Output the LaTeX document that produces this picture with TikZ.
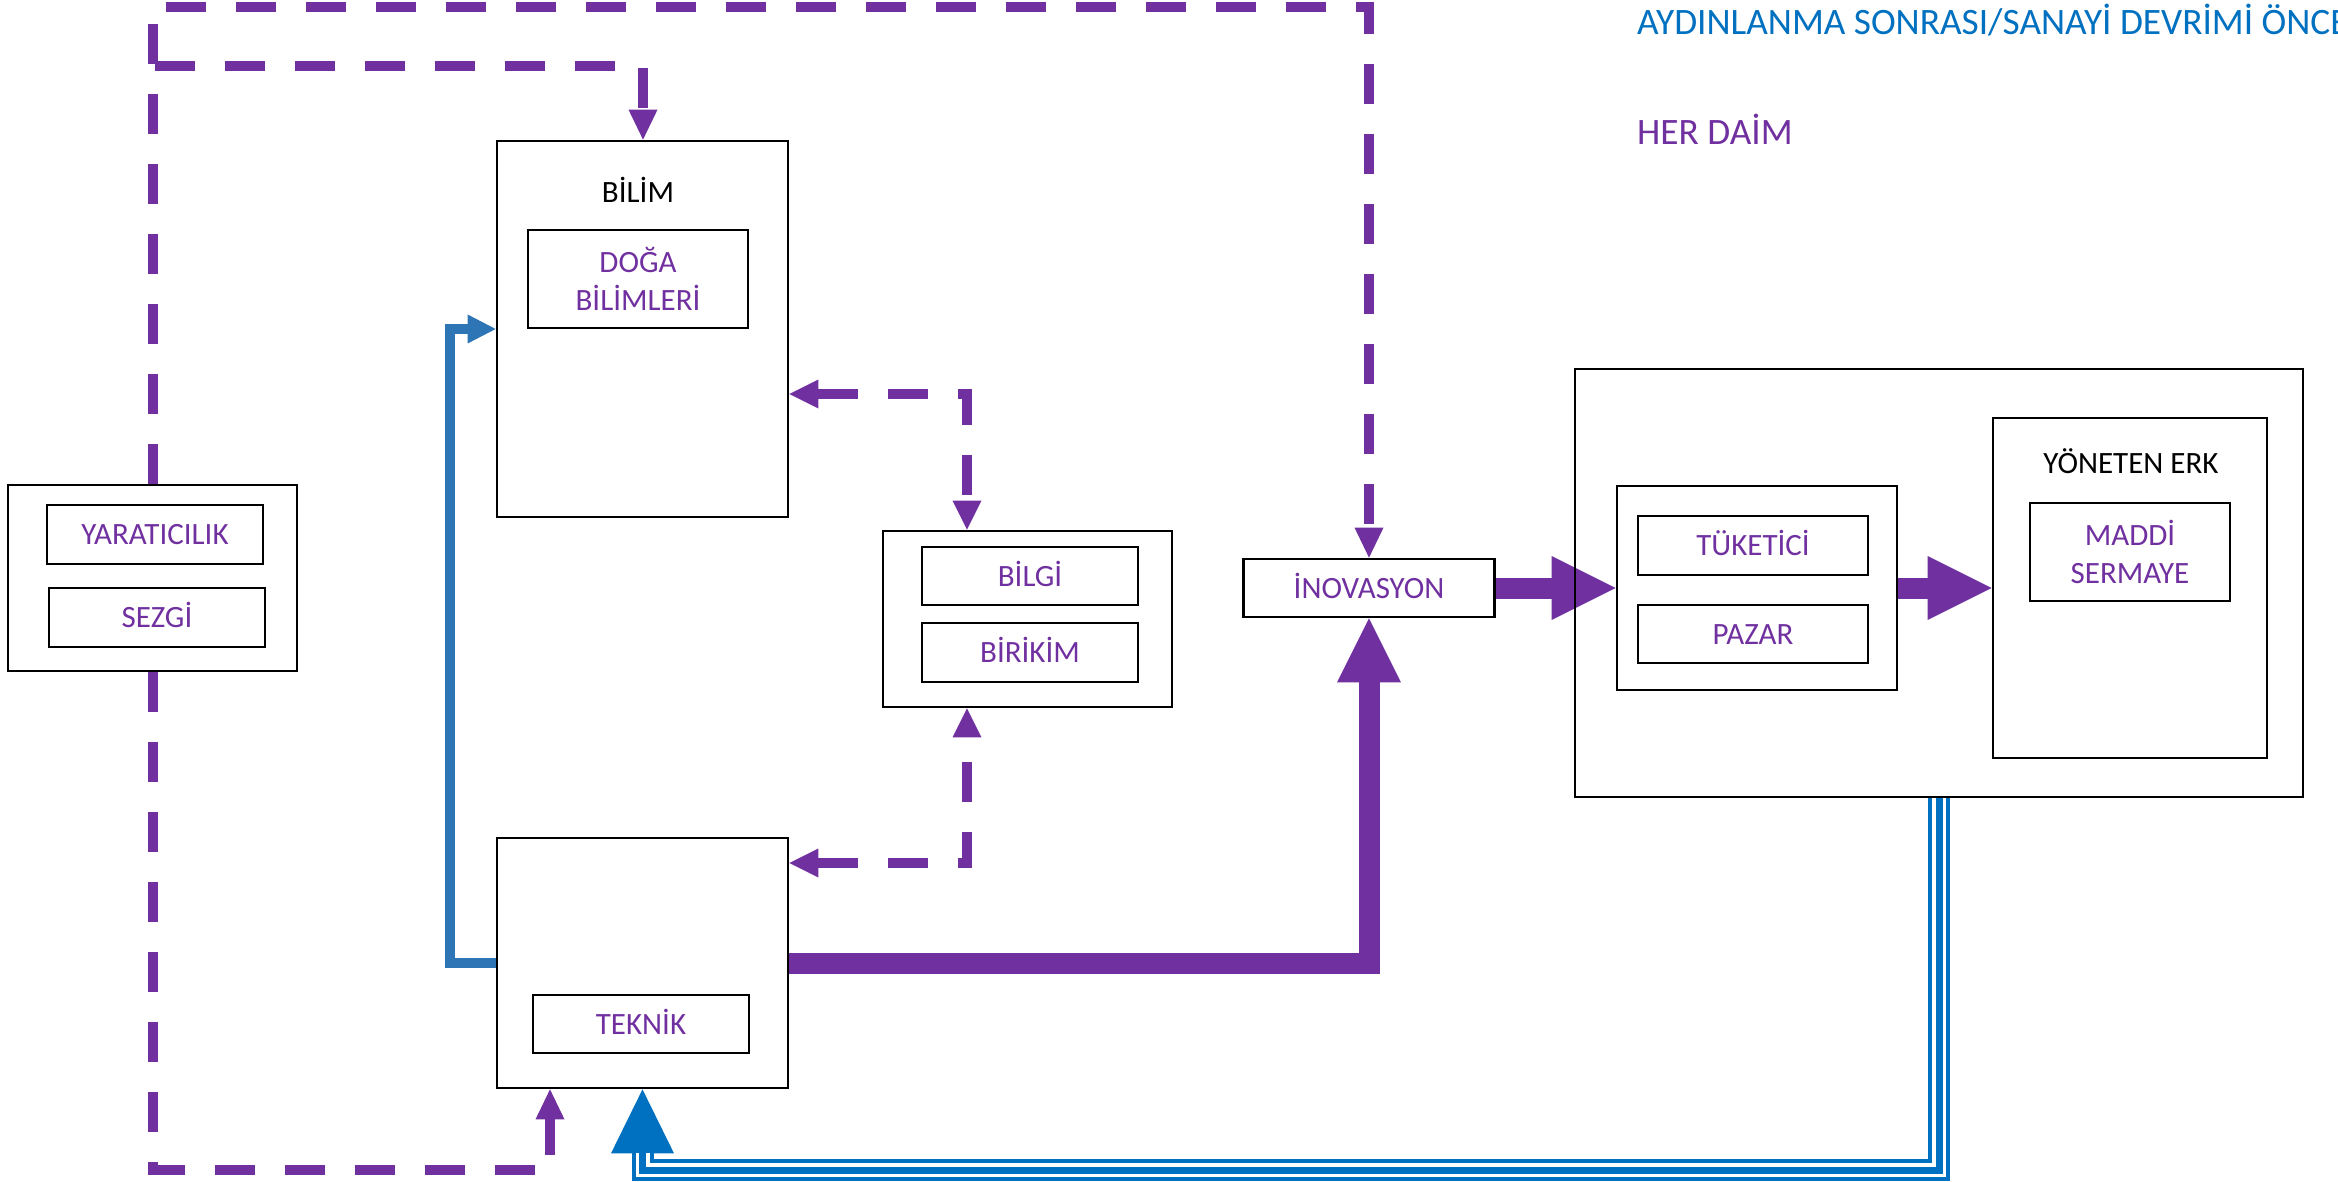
\documentclass[tikz,border=0pt]{standalone}
\usepackage{fontspec}
\setmainfont{Carlito}
\usetikzlibrary{arrows.meta,calc}
\definecolor{purp}{HTML}{7030A0}
\definecolor{blueA}{HTML}{2E75B6}
\definecolor{blueB}{HTML}{0070C0}
\pgfdeclarelayer{bg}
\pgfsetlayers{bg,main}
\begin{document}
\begin{tikzpicture}[x=1pt,y=-1pt,
  box/.style={draw=black,line width=2.7pt,inner sep=0pt,align=center},
  lbl/.style={box,text=purp,font=\fontsize{31}{38}\selectfont},
  lblone/.style={lbl,text height=20pt,text depth=0pt},
  ttl/.style={font=\fontsize{31}{38}\selectfont,anchor=base,inner sep=0pt},
  legend/.style={font=\fontsize{37.3}{44}\selectfont,anchor=base west,inner sep=0pt},
  dsh/.style={draw=purp,line width=10pt,dash pattern=on 40pt off 30pt,line join=miter},
  stip/.style={-{Triangle[width=29pt,length=30pt,line width=0pt]}},
  dtip/.style={{Triangle[width=29pt,length=29pt,line width=0pt]}-{Triangle[width=29pt,length=29pt,line width=0pt]}},
  thk/.style={draw=purp,line width=21pt,line join=miter,-{Triangle[width=64pt,length=64pt,line width=0pt]}},
  bluethin/.style={draw=blueA,line width=10pt,line join=miter,-{Triangle[width=29pt,length=28pt,line width=0pt]}},
  triple/.style={draw=blueB,line width=22pt,line join=miter,-{Triangle[width=63pt,length=64pt,line width=0pt]},
    postaction={draw=white,line width=14pt,-,shorten >=63.5pt},
    postaction={draw=blueB,line width=7pt,-,shorten >=63.5pt}}
]
\useasboundingbox (0,0) rectangle (2338,1182);

% legend
\node[legend,text=blueB] (leg1) at (1637,35) {AYDINLANMA SONRASI/SANAYİ DEVRİMİ ÖNCE};
\node[legend,text=purp] (leg2) at (1637,145) {HER DAİM};

% creativity
\node[box,minimum width=289pt,minimum height=186pt] (kreat) at (152.5,578) {};
\node[lblone,minimum width=216pt,minimum height=59pt] (yarat) at (155,534.5) {YARATICILIK};
\node[lblone,minimum width=216pt,minimum height=59pt] (sezgi) at (157,617.5) {SEZGİ};

% science
\node[box,minimum width=291pt,minimum height=376pt] (bilim) at (642.5,329) {};
\node[ttl] (bilimt) at (638,203) {BİLİM};
\node[lbl,minimum width=220pt,minimum height=98pt] (doga) at (638,279) {DOĞA\\BİLİMLERİ};

% knowledge
\node[box,minimum width=289pt,minimum height=176pt] (bilgi) at (1027.5,619) {};
\node[lblone,minimum width=216pt,minimum height=58pt] (bilgit) at (1030,576) {BİLGİ};
\node[lblone,minimum width=216pt,minimum height=59pt] (birikim) at (1030,652.5) {BİRİKİM};

% technique
\node[box,minimum width=291pt,minimum height=250pt] (teknik) at (642.5,963) {};
\node[lblone,minimum width=216pt,minimum height=58pt] (teknikt) at (641,1024) {TEKNİK};

% innovation
\node[lblone,minimum width=251pt,minimum height=58pt] (inov) at (1369,588) {İNOVASYON};

% big box
\node[box,minimum width=728pt,minimum height=428pt] (big) at (1939,583) {};
\node[box,minimum width=280pt,minimum height=204pt] (market) at (1757,588) {};
\node[lblone,minimum width=230pt,minimum height=59pt] (tuk) at (1753,545.5) {TÜKETİCİ};
\node[lblone,minimum width=230pt,minimum height=58pt] (pazar) at (1753,634) {PAZAR};
\node[box,minimum width=274pt,minimum height=340pt] (erk) at (2130,588) {};
\node[ttl] (erkt) at (2131,473) {YÖNETEN ERK};
\node[lbl,minimum width=200pt,minimum height=98pt] (maddi) at (2130,552) {MADDİ\\SERMAYE};

% helper coordinates
\coordinate (tr) at (1369,7);
\coordinate (tm) at (643,66);
\coordinate (tk1) at (550,1170);
\coordinate (b1) at (967,394);
\coordinate (b2) at (967,863);
\coordinate (bl) at (450,963);
\coordinate (br) at (1939,1170);

\begin{pgfonlayer}{bg}
\draw[dsh,stip] (kreat.north) |- (tr) -- (inov.north);
\draw[dsh,stip] (kreat.north) |- (tm) -- (tm |- bilim.north);
\draw[dsh,stip] (kreat.south) |- (tk1) -- (tk1 |- teknik.south);
\draw[dsh,dtip] (bilim.east |- b1) -- (b1) -- (b1 |- bilgi.north);
\draw[dsh,dtip] (teknik.east |- b2) -- (b2) -- (b2 |- bilgi.south);
\draw[thk] (teknik.east) -| (inov.south);
\draw[thk] (inov.east) -- (market.west);
\draw[thk] (market.east) -- (erk.west);
\draw[bluethin] (teknik.west) -- (bl) |- (bilim.west);
\draw[triple] (big.south) -- (br) -| (teknik.south);
\end{pgfonlayer}
\end{tikzpicture}
\end{document}
